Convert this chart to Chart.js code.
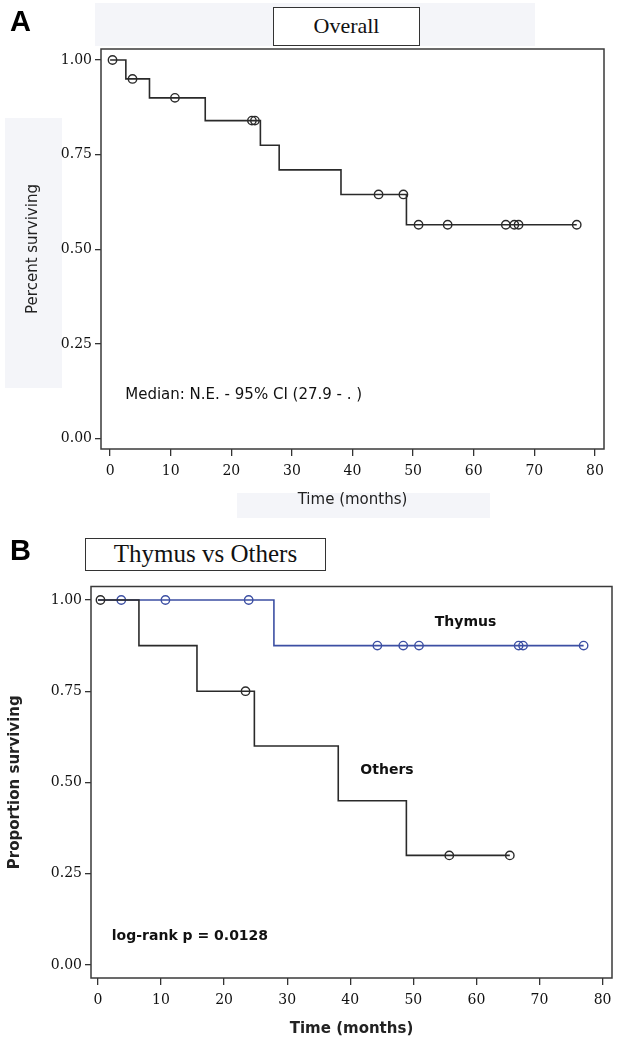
<!DOCTYPE html>
<html>
<head>
<meta charset="utf-8">
<script src="https://cdn.jsdelivr.net/npm/chart.js@4.4.1/dist/chart.umd.min.js"></script>
<style>
  body { margin: 0; background: #fff; width: 621px; height: 1045px; position: relative; overflow: hidden; }
  .haze { position: absolute; background: #f4f5f9; }
  .tag { position: absolute; font: bold 29px "Liberation Sans", Arial, sans-serif; color: #000; line-height: 29px; }
  .ttl { position: absolute; box-sizing: border-box; border: 1.5px solid #333; background: #fff;
         font-family: "Liberation Serif", serif; color: #111; text-align: center; }
  canvas { position: absolute; left: 0; }
</style>
</head>
<body>
<div class="haze" style="left:95px;top:3px;width:440px;height:43px"></div>
<div class="haze" style="left:5px;top:118px;width:57px;height:270px"></div>
<div class="haze" style="left:237px;top:493px;width:253px;height:25px"></div>

<canvas id="chartA" width="621" height="520" style="top:0"></canvas>
<canvas id="chartB" width="621" height="525" style="top:520px"></canvas>

<div class="tag" style="left:10px;top:7px">A</div>
<div class="ttl" style="left:273px;top:7px;width:147px;height:39px;font-size:22px;line-height:36px">Overall</div>
<div class="tag" style="left:10px;top:536px">B</div>
<div class="ttl" style="left:85px;top:538px;width:241px;height:33px;font-size:25px;line-height:30px">Thymus vs Others</div>

<script>
// ---- data ----
// Panel A: overall Kaplan-Meier estimate
const overallTimes = [0, 2.6, 6.5, 15.7, 24.8, 27.9, 38.1, 48.9, 77];
const overallSurv  = [1.00, 0.95, 0.90, 0.84, 0.775, 0.71, 0.645, 0.565, 0.565];
const overallCensored = [0.4, 3.7, 10.7, 23.4, 23.9, 44.3, 48.4, 50.9, 55.7, 65.3, 66.7, 67.4, 77.0];

// Panel B: thymus vs others
const thymusTimes = [0, 27.9, 77];
const thymusSurv  = [1.00, 0.875, 0.875];
const thymusCensored = [3.7, 10.7, 23.9, 44.3, 48.4, 50.9, 66.7, 67.4, 77.0];

const othersTimes = [0, 6.5, 15.7, 24.8, 38.1, 48.9, 65.3];
const othersSurv  = [1.00, 0.875, 0.75, 0.60, 0.45, 0.30, 0.30];
const othersCensored = [0.4, 23.4, 55.7, 65.3];

const timeTicks = [0, 10, 20, 30, 40, 50, 60, 70, 80];
const survTicks = [0, 0.25, 0.5, 0.75, 1];

// ---- helpers ----
const curvePoints = (times, surv) => times.map((t, i) => ({ x: t, y: surv[i] }));

// survival value in force at time t (step function lookup)
function survAt(times, surv, t) {
  let v = surv[0];
  for (let i = 0; i < times.length; i++) if (times[i] <= t) v = surv[i];
  return v;
}
const censorPoints = (times, surv, cens) => cens.map(t => ({ x: t, y: survAt(times, surv, t) }));

const INK = '#2a2a2a';
const BLUE = '#3c4fa3';

// box round the plot area
const framePlugin = {
  id: 'frame',
  afterDraw(chart) {
    const { ctx, chartArea: a } = chart;
    ctx.save();
    ctx.strokeStyle = '#3a3a3a';
    ctx.lineWidth = 1.5;
    ctx.strokeRect(a.left, a.top, a.right - a.left, a.bottom - a.top);
    ctx.restore();
  }
};

// free text placed in data coordinates
const notesPlugin = {
  id: 'notes',
  afterDatasetsDraw(chart, args, opts) {
    const { ctx, scales: { x, y } } = chart;
    ctx.save();
    ctx.textAlign = 'left';
    ctx.textBaseline = 'middle';
    (opts.items || []).forEach(n => {
      ctx.font = n.font;
      ctx.fillStyle = n.color || '#111';
      ctx.fillText(n.text, x.getPixelForValue(n.x), y.getPixelForValue(n.y));
    });
    ctx.restore();
  }
};

function axes(o) {
  const tickFont = { family: 'DejaVu Serif', size: 14 };
  return {
    x: {
      type: 'linear', min: o.xmin, max: o.xmax,
      afterBuildTicks: s => { s.ticks = timeTicks.map(v => ({ value: v })); },
      afterFit: s => { s.height = o.xh; },
      grid: { drawOnChartArea: false, drawTicks: true, tickLength: 7, color: '#333', lineWidth: 1.3 },
      border: { display: false },
      ticks: { font: tickFont, color: '#111', padding: 7, maxRotation: 0, autoSkip: false },
      title: { display: true, text: 'Time (months)', color: '#222',
               font: { family: 'DejaVu Sans', size: 15, weight: o.bold ? 'bold' : 'normal' },
               padding: { top: 0, bottom: o.xtpad } }
    },
    y: {
      type: 'linear', min: o.ymin, max: o.ymax,
      afterBuildTicks: s => { s.ticks = survTicks.map(v => ({ value: v })); },
      afterFit: s => { s.width = o.yw; },
      grid: { drawOnChartArea: false, drawTicks: true, tickLength: 6, color: '#333', lineWidth: 1.3 },
      border: { display: false },
      ticks: { font: tickFont, color: '#111', padding: 3, callback: v => v.toFixed(2) },
      title: { display: true, text: o.ytitle, color: '#222',
               font: { family: 'DejaVu Sans', size: 15, weight: o.bold ? 'bold' : 'normal' },
               padding: { top: o.ytpad, bottom: 0 } }
    }
  };
}

const curveStyle = color => ({ showLine: true, stepped: 'before', borderColor: color, borderWidth: 1.6,
                               pointRadius: 0, fill: false });
const censorStyle = color => ({ showLine: false, pointStyle: 'circle', pointRadius: 4.2, borderWidth: 1.4,
                                borderColor: color, backgroundColor: 'rgba(0,0,0,0)' });

const common = {
  responsive: false,
  animation: false,
  events: []
};

// ---- Panel A ----
new Chart(document.getElementById('chartA'), {
  type: 'scatter',
  data: {
    datasets: [
      { label: 'Overall', data: curvePoints(overallTimes, overallSurv), ...curveStyle(INK) },
      { label: 'Censored', data: censorPoints(overallTimes, overallSurv, overallCensored), ...censorStyle(INK) }
    ]
  },
  options: {
    ...common,
    layout: { padding: { top: 49, right: 17, left: 0, bottom: 0 } },
    scales: axes({ xmin: -1.5, xmax: 81.5, ymin: -0.027, ymax: 1.029, xh: 71, yw: 101,
                   xtpad: 11, ytpad: 24, ytitle: 'Percent surviving', bold: false }),
    plugins: {
      legend: { display: false },
      tooltip: { enabled: false },
      notes: { items: [
        { x: 2.5, y: 0.114, text: 'Median: N.E. - 95% CI (27.9 - . )', font: '15px "DejaVu Sans"' }
      ] }
    }
  },
  plugins: [framePlugin, notesPlugin]
});

// ---- Panel B ----
new Chart(document.getElementById('chartB'), {
  type: 'scatter',
  data: {
    datasets: [
      { label: 'Others', data: curvePoints(othersTimes, othersSurv), ...curveStyle(INK) },
      { label: 'Others censored', data: censorPoints(othersTimes, othersSurv, othersCensored), ...censorStyle(INK) },
      { label: 'Thymus', data: curvePoints(thymusTimes, thymusSurv), ...curveStyle(BLUE) },
      { label: 'Thymus censored', data: censorPoints(thymusTimes, thymusSurv, thymusCensored), ...censorStyle(BLUE) }
    ]
  },
  options: {
    ...common,
    layout: { padding: { top: 66.5, right: 9, left: 0, bottom: 0 } },
    scales: axes({ xmin: -1.1, xmax: 81.5, ymin: -0.036, ymax: 1.037, xh: 67, yw: 91,
                   xtpad: 7, ytpad: 6, ytitle: 'Proportion surviving', bold: true }),
    plugins: {
      legend: { display: false },
      tooltip: { enabled: false },
      notes: { items: [
        { x: 53.4, y: 0.94, text: 'Thymus', font: 'bold 14px "DejaVu Sans"' },
        { x: 41.6, y: 0.534, text: 'Others', font: 'bold 14px "DejaVu Sans"' },
        { x: 2.2, y: 0.077, text: 'log-rank p = 0.0128', font: 'bold 14px "DejaVu Sans"' }
      ] }
    }
  },
  plugins: [framePlugin, notesPlugin]
});
</script>
</body>
</html>
